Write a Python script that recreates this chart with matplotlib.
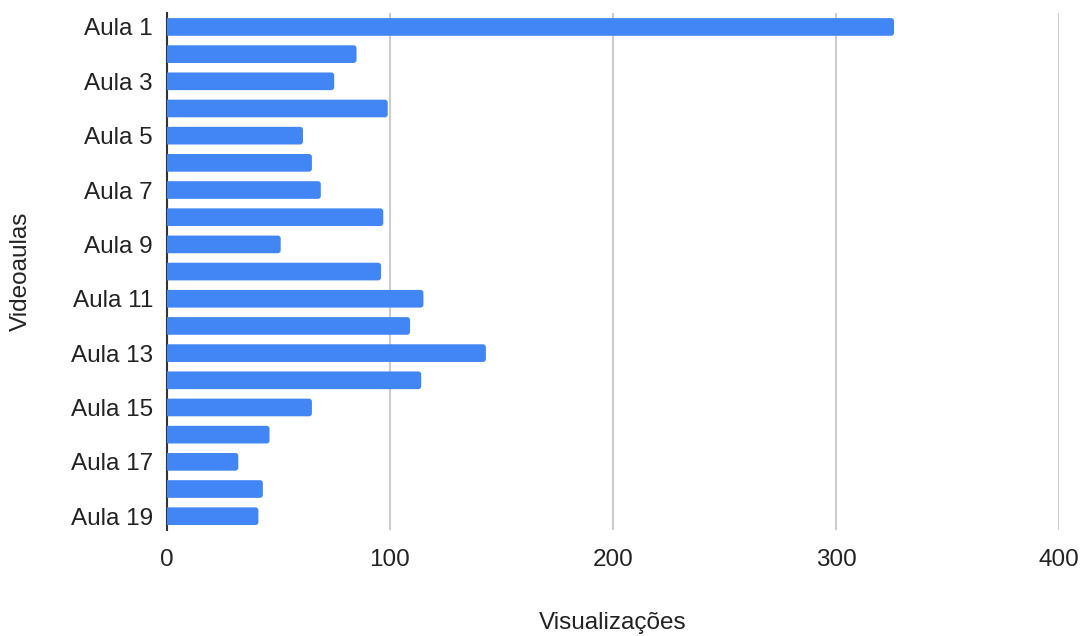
import matplotlib
matplotlib.use("Agg")
import matplotlib.pyplot as plt
from matplotlib.patches import FancyBboxPatch

# Visualizações por videoaula
aulas = ["Aula %d" % i for i in range(1, 20)]
visualizacoes = [326, 85, 75, 99, 61, 65, 69, 97, 51, 96,
                 115, 109, 143, 114, 65, 46, 32, 43, 41]
xticks = [0, 100, 200, 300, 400]

plt.rcParams['font.family'] = ['Liberation Sans', 'DejaVu Sans']

fig = plt.figure(figsize=(10.84, 6.36), dpi=100)
ax = fig.add_axes([0.154, 0.167, 0.823, 0.812])

pos = list(range(len(aulas)))
barras = ax.barh(pos, visualizacoes, height=0.65, color='#4285F4', zorder=3)

ax.set_xlim(0, 400)
ax.set_ylim(len(aulas) - 0.5, -0.5)

# cantos arredondados como no Google Sheets
for b in barras:
    x0, y0, w, h = b.get_x(), b.get_y(), b.get_width(), b.get_height()
    b.set_visible(False)
    p = FancyBboxPatch((x0 - 3, y0), w + 3, h,
                       boxstyle="round,pad=0,rounding_size=1.3",
                       mutation_aspect=0.082,
                       facecolor='#4285F4', edgecolor='none', zorder=3)
    ax.add_patch(p)

ax.set_xticks(xticks)
ax.set_yticks(pos[::2])
ax.set_yticklabels(aulas[::2])

ax.xaxis.grid(True, color='#cccccc', linewidth=1.5, zorder=0)
ax.set_axisbelow(True)
for s in ['top', 'right', 'bottom']:
    ax.spines[s].set_visible(False)
ax.spines['left'].set_color('#333333')
ax.spines['left'].set_linewidth(1.5)
ax.spines['left'].set_zorder(2)

ax.tick_params(axis='both', length=0, labelsize=17.5, colors='#222222')
ax.tick_params(axis='y', pad=10)
ax.tick_params(axis='x', pad=14)

ax.set_xlabel('Visualizações', fontsize=17.5, color='#222222', labelpad=29)
ax.set_ylabel('Videoaulas', fontsize=17.5, color='#222222', labelpad=28)

fig.savefig('out.png', dpi=100)
